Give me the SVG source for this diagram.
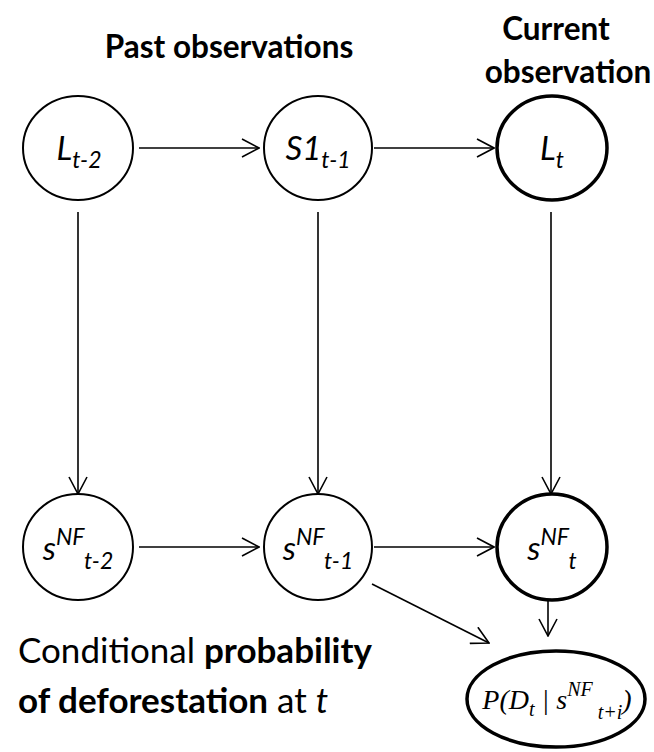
<svg xmlns="http://www.w3.org/2000/svg" width="654" height="752" viewBox="0 0 654 752">
<defs>
<marker id="ah" viewBox="0 0 20 20" refX="19" refY="10" markerWidth="20" markerHeight="20" markerUnits="userSpaceOnUse" orient="auto">
<path d="M2,1 L19,10 L2,19" fill="none" stroke="#000" stroke-width="1.6"/>
</marker>
<style>
.n{fill:#fff;stroke:#000;stroke-width:2}
.nb{fill:#fff;stroke:#000;stroke-width:3.5}
.c{stroke:#000;stroke-width:1.6;fill:none;marker-end:url(#ah)}
.t{font-family:Lato,"Open Sans",sans-serif;font-style:italic;font-size:33px;text-anchor:middle}
.h{font-family:Lato,"Open Sans",sans-serif;font-weight:bold;font-size:31.5px;text-anchor:middle}
.cap{font-family:Lato,"Open Sans",sans-serif;font-size:35px}
.m{font-family:"Liberation Serif","Times New Roman",serif;font-style:italic;font-size:28px;text-anchor:middle}
</style>
</defs>
<rect width="654" height="752" fill="#fff"/>
<text class="h" x="229" y="58">Past observations</text>
<text class="h" x="556" y="40">Current</text>
<text class="h" x="568" y="83">observation</text>
<g id="connectors">
<line class="c" x1="139" y1="148" x2="259" y2="148"/>
<line class="c" x1="374" y1="148" x2="494" y2="148"/>
<line class="c" x1="139" y1="547" x2="259" y2="547"/>
<line class="c" x1="374" y1="547" x2="494" y2="547"/>
<line class="c" x1="78" y1="212" x2="78" y2="494"/>
<line class="c" x1="318" y1="212" x2="318" y2="494"/>
<line class="c" x1="551" y1="212" x2="551" y2="494"/>
<line class="c" x1="372" y1="584" x2="489" y2="643"/>
<line class="c" x1="548" y1="601" x2="548" y2="636"/>
</g>
<g id="L_t-2">
<ellipse class="n" cx="78" cy="148" rx="55" ry="52"/>
<text class="t" x="79" y="160">L<tspan font-size="23" dy="8">t-2</tspan></text>
</g>
<g id="S1_t-1">
<ellipse class="n" cx="318" cy="148" rx="54" ry="52"/>
<text class="t" x="318" y="160">S1<tspan font-size="23" dy="8">t-1</tspan></text>
</g>
<g id="L_t">
<ellipse class="nb" cx="552" cy="148" rx="55" ry="52"/>
<text class="t" x="552" y="160">L<tspan font-size="23" dy="8">t</tspan></text>
</g>
<g id="sNF_t-2">
<ellipse class="n" cx="78" cy="547" rx="55" ry="53"/>
<text class="t" x="78" y="560">s<tspan font-size="23" dy="-15">NF</tspan><tspan font-size="23" dy="24">t-2</tspan></text>
</g>
<g id="sNF_t-1">
<ellipse class="n" cx="318" cy="547" rx="54" ry="53"/>
<text class="t" x="318" y="560">s<tspan font-size="23" dy="-15">NF</tspan><tspan font-size="23" dy="24">t-1</tspan></text>
</g>
<g id="sNF_t">
<ellipse class="nb" cx="552" cy="547" rx="55" ry="53"/>
<text class="t" x="552" y="560">s<tspan font-size="23" dy="-15">NF</tspan><tspan font-size="23" dy="24">t</tspan></text>
</g>
<g id="P">
<ellipse class="nb" cx="556" cy="699" rx="89" ry="48"/>
<text class="m" x="557" y="709">P(D<tspan font-size="20" dy="7">t</tspan><tspan dy="-7"> | s</tspan><tspan font-size="20" dy="-13">NF</tspan><tspan font-size="20" dy="23"> t+i</tspan><tspan dy="-10">)</tspan></text>
</g>
<g id="caption">
<text class="cap" x="18" y="663">Conditional <tspan font-weight="bold">probability</tspan></text>
<text class="cap" x="18" y="713"><tspan font-weight="bold">of deforestation</tspan> at <tspan font-style="italic">t</tspan></text>
</g>
</svg>
